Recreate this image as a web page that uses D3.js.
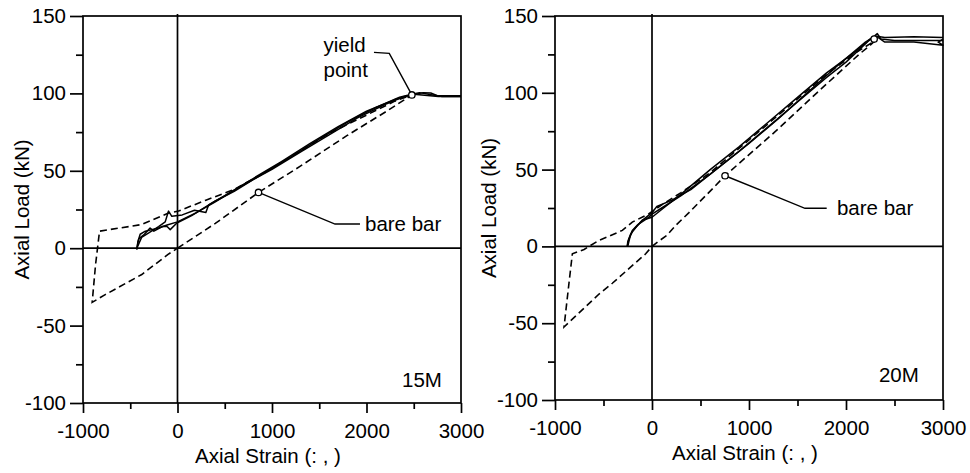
<!DOCTYPE html>
<html>
<head>
<meta charset="utf-8">
<script src="https://cdn.jsdelivr.net/npm/d3@7"></script>
<style>
  body { margin: 0; background: #fff; }
  svg { display: block; font-family: "Liberation Sans", Arial, sans-serif; }
  .tick-label, .axis-title, .note { font-size: 20.5px; fill: #000; }
</style>
</head>
<body>
<div id="chart"></div>
<script>
// axial load vs strain - two panels (15M, 20M)

const X_TICKS = [-1000, 0, 1000, 2000, 3000];
const X_MINOR = [-500, 500, 1500, 2500];
const Y_TICKS = [-100, -50, 0, 50, 100, 150];
const Y_MINOR = [-75, -25, 25, 75, 125];

// 15M - solid cycles (strain, kN)
const M15_CYCLE_1 = [[-430,-1],[-420,4],[-395,9],[-340,11],[-272,12],[-200,13],[-110,15],[0,17],[200,23],[400,30],
  [700,41],[1000,51],[1300,62],[1600,73],[1900,84],[2200,93],[2400,98],[2480,99],[2600,100.5],[2680,100.3],[2750,98.5],[3000,98.5]];
const M15_CYCLE_2 = [[3000,98],[2760,98],[2500,99.5],[2300,96],[2000,88.5],[1700,78.5],[1400,67.5],[1100,56],[800,45],
  [500,34],[330,28],[300,23],[180,24.5],[50,21.5],[-60,20.6],[-95,24],[-130,17],[-200,14],[-300,10],[-380,7],[-430,0]];
const M15_CYCLE_3 = [[-430,0],[-410,6],[-350,9],[-290,13],[-250,11],[-160,14],[-113,14.2],[-77,12],[-7,16.3],[150,21],
  [400,30.5],[600,36.7],[900,48],[1200,59],[1500,70.5],[1800,81.5],[2100,91],[2350,97.5],[2480,99.5],[2560,100.5],[2700,99],[2800,98],[3000,98]];
// 15M - bare bar (dashed)
const M15_BARE = [[0,0],[400,16],[857,36],[1300,53],[1800,73],[2200,88],[2430,97],[2480,99],[2300,95],[2000,86],
  [1600,74],[1200,59],[900,48],[600,38],[300,31],[11,24],[-95,22.7],[-378,15.3],[-825,11],[-867,-10.5],[-903,-35],
  [-765,-30],[-378,-17],[-100,-4],[0,0]];

// 20M - solid cycles
const M20_CYCLE_1 = [[-255,0],[-240,5],[-203,10.4],[-150,14],[-80,17],[-31,19],[0,21],[100,25],[300,33],[600,47],
  [900,62],[1200,78],[1500,94],[1800,110],[2000,120],[2237,134],[2323,138.5],[2360,135],[2500,134],[2800,134],[3000,134]];
const M20_CYCLE_2 = [[3000,136],[2700,136.5],[2400,136],[2300,137],[2200,133],[1900,117],[1600,100],[1300,83],[1000,67],
  [700,52],[400,37],[200,30],[50,26],[0,22],[-100,17],[-200,10],[-250,3],[-255,0]];
const M20_CYCLE_3 = [[-250,0],[-220,8],[-160,13],[-100,17],[0,19],[100,24],[300,34],[600,50],[900,65],[1200,81],
  [1500,97],[1800,113],[2100,127],[2250,135],[2330,136],[2400,133],[2700,133],[3000,131],[2950,133],[3000,135]];
// 20M - bare bar (dashed)
const M20_BARE = [[0,0],[60,3],[150,7],[250,14],[381,22],[600,36],[753,46],[1275,75],[1700,100],[2134,125],[2250,131],
  [2300,134],[2100,126],[1800,112],[1500,96],[1200,80],[900,64],[600,48],[300,35],[100,27],[-31,21.3],[-203,15.8],
  [-306,10.4],[-546,3.9],[-650,0],[-700,-2],[-821,-4.8],[-856,-24],[-907,-52.5],[-546,-31],[-409,-24],[-65,-4.8],[0,0]];

// annotation points (data units)
const M15_YIELD = [2480, 99];
const M15_BARE_MARK = [857, 36];
const M20_YIELD = [2290, 135];
const M20_BARE_MARK = [753, 46];

const panels = [
  {
    name: '15M', left: 83, right: 461, top: 16, bottom: 403, yTitleX: 29,
    solids: [M15_CYCLE_1, M15_CYCLE_2, M15_CYCLE_3], bare: M15_BARE,
    markers: [M15_YIELD, M15_BARE_MARK],
    leaders: [[[2079,126.5],[2241,125.9],M15_YIELD], [M15_BARE_MARK,[1667,15.6],[1931,15.6]]],
    notes: [['yield',1545,126.7],['point',1545,110.6],['bare bar',1984,11.1],['15M',2376,-89.7]]
  },
  {
    name: '20M', left: 555, right: 943, top: 16, bottom: 400, yTitleX: 496,
    solids: [M20_CYCLE_1, M20_CYCLE_2, M20_CYCLE_3], bare: M20_BARE,
    markers: [M20_YIELD, M20_BARE_MARK],
    leaders: [[M20_BARE_MARK,[1577,24.8],[1801,24.8]]],
    notes: [['bare bar',1907,20.4],['20M',2340,-88]]
  }
];

const svg = d3.select('#chart').append('svg')
  .attr('width', 970)
  .attr('height', 473);

panels.forEach(p => {
  const x = d3.scaleLinear().domain([-1000, 3000]).range([p.left, p.right]);
  const y = d3.scaleLinear().domain([-100, 150]).range([p.bottom, p.top]);
  const g = svg.append('g');

  // frame
  g.append('rect')
    .attr('x', p.left).attr('y', p.top)
    .attr('width', p.right - p.left).attr('height', p.bottom - p.top)
    .attr('fill', 'none').attr('stroke', '#000').attr('stroke-width', 1.7);

  // zero lines
  g.append('line')
    .attr('x1', x(0)).attr('x2', x(0)).attr('y1', p.top - 2).attr('y2', p.bottom)
    .attr('stroke', '#000').attr('stroke-width', 1.7);
  g.append('line')
    .attr('x1', p.left).attr('x2', p.right).attr('y1', y(0)).attr('y2', y(0))
    .attr('stroke', '#000').attr('stroke-width', 1.7);

  // axes (plain hyphen for negatives, like the original)
  const fmt = d => String(d);
  const xAxis = g.append('g').attr('transform', `translate(0,${p.bottom})`)
    .call(d3.axisBottom(x).tickValues(X_TICKS).tickSize(10).tickPadding(10).tickFormat(fmt));
  g.append('g').attr('transform', `translate(0,${p.bottom})`)
    .call(d3.axisBottom(x).tickValues(X_MINOR).tickSize(6).tickFormat(''));
  const yAxis = g.append('g').attr('transform', `translate(${p.left},0)`)
    .call(d3.axisLeft(y).tickValues(Y_TICKS).tickSize(13).tickPadding(4).tickFormat(fmt));
  g.append('g').attr('transform', `translate(${p.left},0)`)
    .call(d3.axisLeft(y).tickValues(Y_MINOR).tickSize(7).tickFormat(''));

  g.selectAll('.domain').remove();
  g.selectAll('.tick line').attr('stroke', '#000').attr('stroke-width', 1.7);
  xAxis.selectAll('text').attr('class', 'tick-label').attr('font-size', null).attr('font-family', null);
  yAxis.selectAll('text').attr('class', 'tick-label').attr('font-size', null).attr('font-family', null);

  // axis titles
  g.append('text')
    .attr('class', 'axis-title')
    .attr('x', (p.left + p.right) / 2 - 4)
    .attr('y', p.bottom + 60)
    .attr('text-anchor', 'middle')
    .text('Axial Strain (: , )');

  g.append('text')
    .attr('class', 'axis-title')
    .attr('transform', `translate(${p.yTitleX},${(p.top + p.bottom) / 2}) rotate(-90)`)
    .attr('text-anchor', 'middle')
    .text('Axial Load (kN)');

  const line = d3.line().x(d => x(d[0])).y(d => y(d[1]));

  // bare bar (dashed)
  g.append('path')
    .attr('d', line(p.bare))
    .attr('fill', 'none').attr('stroke', '#000').attr('stroke-width', 1.6)
    .attr('stroke-dasharray', '7,4');

  // test cycles (solid)
  g.selectAll('.cycle')
    .data(p.solids)
    .enter()
    .append('path')
    .attr('class', 'cycle')
    .attr('d', line)
    .attr('fill', 'none').attr('stroke', '#000').attr('stroke-width', 1.5)
    .attr('stroke-linejoin', 'round');

  // leader lines
  g.selectAll('.leader')
    .data(p.leaders)
    .enter()
    .append('path')
    .attr('class', 'leader')
    .attr('d', line)
    .attr('fill', 'none').attr('stroke', '#000').attr('stroke-width', 1.4);

  // open markers
  g.selectAll('.marker')
    .data(p.markers)
    .enter()
    .append('circle')
    .attr('cx', d => x(d[0])).attr('cy', d => y(d[1]))
    .attr('r', 3.2)
    .attr('fill', '#fff').attr('stroke', '#000').attr('stroke-width', 1.3);

  // notes
  g.selectAll('.note')
    .data(p.notes)
    .enter()
    .append('text')
    .attr('class', 'note')
    .attr('x', d => x(d[1])).attr('y', d => y(d[2]))
    .text(d => d[0]);
});
</script>
</body>
</html>
